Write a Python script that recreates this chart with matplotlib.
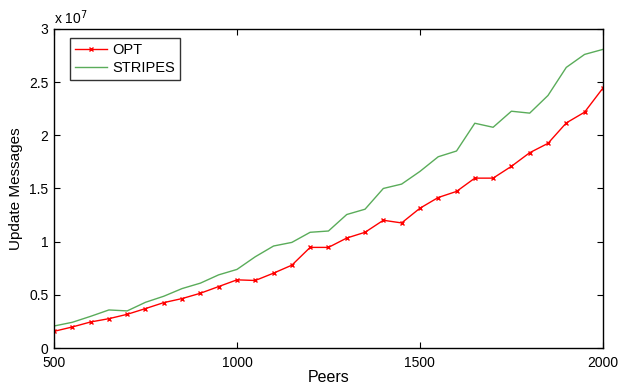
import matplotlib.pyplot as plt
from matplotlib.ticker import FuncFormatter

plt.rcParams['font.family'] = ['Liberation Sans', 'DejaVu Sans']

# number of peers
peers = list(range(500, 2001, 50))

# update messages for each scheme
opt = [0.157e7, 0.198e7, 0.245e7, 0.276e7, 0.317e7, 0.371e7, 0.427e7, 0.465e7,
       0.515e7, 0.578e7, 0.641e7, 0.635e7, 0.704e7, 0.779e7, 0.946e7, 0.946e7,
       1.034e7, 1.088e7, 1.201e7, 1.176e7, 1.314e7, 1.415e7, 1.472e7, 1.597e7,
       1.597e7, 1.708e7, 1.836e7, 1.924e7, 2.116e7, 2.217e7, 2.443e7]
stripes = [0.207e7, 0.242e7, 0.298e7, 0.358e7, 0.349e7, 0.430e7, 0.487e7, 0.559e7,
           0.610e7, 0.688e7, 0.739e7, 0.858e7, 0.959e7, 0.993e7, 1.088e7, 1.100e7,
           1.255e7, 1.305e7, 1.500e7, 1.541e7, 1.660e7, 1.798e7, 1.852e7, 2.113e7,
           2.075e7, 2.226e7, 2.208e7, 2.374e7, 2.638e7, 2.760e7, 2.807e7]

fig = plt.figure(figsize=(6.28, 3.85), dpi=100)
ax = fig.add_axes([0.086, 0.096, 0.874, 0.829])

ax.plot(peers, opt, color='red', marker='x', markersize=3.5, linewidth=1,
        markeredgewidth=1, label='OPT')
ax.plot(peers, stripes, color='#5aac5a', linewidth=1, label='STRIPES')

ax.set_xlim(500, 2000)
ax.set_ylim(0, 3e7)
ax.set_xticks([500, 1000, 1500, 2000])
ax.set_yticks([i * 0.5e7 for i in range(7)])
ax.yaxis.set_major_formatter(FuncFormatter(lambda v, p: '%g' % (v / 1e7)))
ax.tick_params(direction='in', top=True, right=True, labelsize=10, length=4, width=0.8)
ax.tick_params(axis='x', pad=6)
ax.tick_params(axis='y', pad=4)
for s in ax.spines.values():
    s.set_linewidth(1)

ax.text(0, 1.005, 'x 10$^{7}$', transform=ax.transAxes, fontsize=10,
        ha='left', va='bottom')

ax.set_xlabel('Peers', fontsize=11.5, labelpad=0)
ax.set_ylabel('Update Messages', fontsize=11)
ax.yaxis.set_label_coords(-0.057, 0.5)

leg = ax.legend(loc='upper left', bbox_to_anchor=(0.029, 0.972), fontsize=10.5,
                frameon=True, fancybox=False, edgecolor='black', markerscale=1,
                numpoints=1, handlelength=2.2, borderpad=0.35, labelspacing=0.3,
                handletextpad=0.35, borderaxespad=0)
leg.get_frame().set_linewidth(1)

fig.savefig('out.png', dpi=100)
